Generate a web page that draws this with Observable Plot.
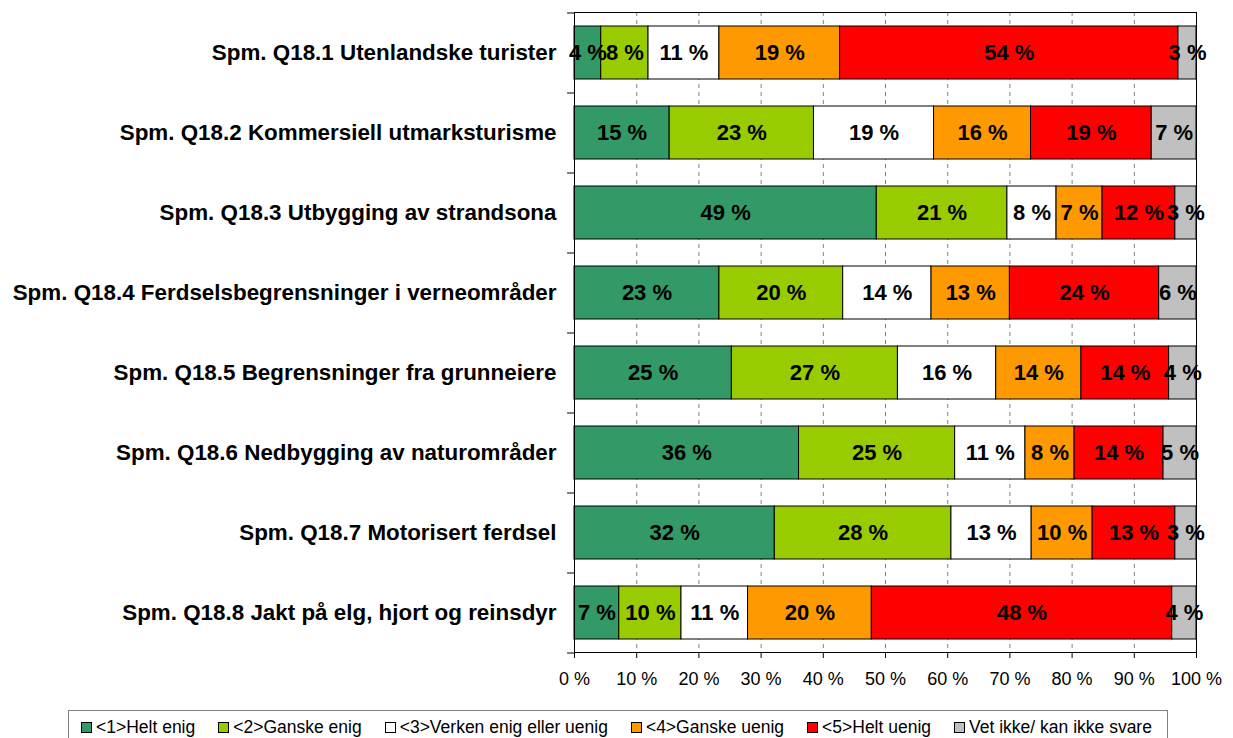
<!DOCTYPE html>
<html><head><meta charset="utf-8">
<script src="https://cdn.jsdelivr.net/npm/d3@7"></script>
<script src="https://cdn.jsdelivr.net/npm/@observablehq/plot@0.6"></script>
<style>
body{margin:0;background:#fff;font-family:"Liberation Sans",Arial,sans-serif;}
#chart{position:relative;width:1233px;height:738px;overflow:hidden;}
#legend{position:absolute;left:68px;top:710px;width:1100px;height:34px;border:1px solid #808080;box-sizing:border-box;display:flex;align-items:flex-start;padding:7px 0 0 12px;font-size:17.5px;white-space:nowrap;color:#000;}
.item{display:flex;align-items:center;margin-right:23px;line-height:19px;}
.sw{width:9px;height:9px;border:1px solid #000;margin-right:4px;}
</style></head><body><div id="chart"></div><script>
const questions = [
  "Spm. Q18.1 Utenlandske turister",
  "Spm. Q18.2 Kommersiell utmarksturisme",
  "Spm. Q18.3 Utbygging av strandsona",
  "Spm. Q18.4 Ferdselsbegrensninger i verneområder",
  "Spm. Q18.5 Begrensninger fra grunneiere",
  "Spm. Q18.6 Nedbygging av naturområder",
  "Spm. Q18.7 Motorisert ferdsel",
  "Spm. Q18.8 Jakt på elg, hjort og reinsdyr"
];
const categories = ["<1>Helt enig", "<2>Ganske enig", "<3>Verken enig eller uenig", "<4>Ganske uenig", "<5>Helt uenig", "Vet ikke/ kan ikke svare"];
const colors = ["#339966", "#99CC00", "#FFFFFF", "#FF9900", "#FF0000", "#C0C0C0"];

const heltEnig    = [4.3, 15.3, 48.6, 23.3, 25.3, 36.1, 32.2, 7.2];
const ganskeEnig  = [7.6, 23.2, 21.0, 19.9, 26.7, 25.1, 28.4, 10.0];
const verken      = [11.4, 19.3, 7.9, 14.2, 15.8, 11.3, 12.9, 10.7];
const ganskeUenig = [19.4, 15.6, 7.4, 12.6, 13.7, 7.9, 9.8, 19.9];
const heltUenig   = [54.4, 19.4, 11.7, 24.0, 14.1, 14.3, 13.3, 48.3];
const vetIkke     = [2.9, 7.2, 3.4, 6.0, 4.4, 5.3, 3.4, 3.9];

const xTicks = [0, 10, 20, 30, 40, 50, 60, 70, 80, 90, 100];

const series = [heltEnig, ganskeEnig, verken, ganskeUenig, heltUenig, vetIkke];
const data = questions.flatMap((q, i) => categories.map((c, j) => ({question: q, category: c, value: series[j][i]})));

const font = "'Liberation Sans', Arial, Helvetica, sans-serif";

const plot = Plot.plot({
  width: 1233,
  height: 700,
  marginLeft: 574,
  marginRight: 37,
  marginTop: 12,
  marginBottom: 48,
  style: {fontFamily: font, background: "white", overflow: "visible", color: "black"},
  x: {domain: [0, 100]},
  y: {domain: questions, paddingInner: 0.34, paddingOuter: 0.17},
  color: {domain: categories, range: colors},
  marks: [
    Plot.gridX(xTicks, {stroke: "#808080", strokeOpacity: 1, strokeDasharray: "4,4"}),
    Plot.barX(data, Plot.stackX({x: "value", y: "question", fill: "category", order: categories, stroke: "black", strokeWidth: 1})),
    Plot.text(data, Plot.stackX({x: "value", y: "question", z: "category", order: categories,
      text: d => `${Math.round(d.value)} %`, fontSize: 22, fontWeight: "bold", fill: "black"})),
    Plot.frame({stroke: "black"}),
    Plot.axisX(xTicks, {tickSize: 6, tickPadding: 14, tickFormat: d => `${d} %`, fontSize: 18, label: null}),
    Plot.axisY({tickSize: 0, tickPadding: 18, fontSize: 22.4, fontWeight: "bold", label: null}),
    Plot.axisY({tickSize: 7, text: null, dy: -40, label: null}),
    Plot.axisY([questions[questions.length - 1]], {tickSize: 7, text: null, dy: 40, label: null})
  ]
});
const chart = document.getElementById("chart");
chart.appendChild(plot);

const legend = document.createElement("div");
legend.id = "legend";
categories.forEach((c, i) => {
  const item = document.createElement("div");
  item.className = "item";
  const sw = document.createElement("div");
  sw.className = "sw";
  sw.style.background = colors[i];
  const t = document.createElement("span");
  t.textContent = c;
  item.appendChild(sw);
  item.appendChild(t);
  legend.appendChild(item);
});
chart.appendChild(legend);
</script></body></html>
